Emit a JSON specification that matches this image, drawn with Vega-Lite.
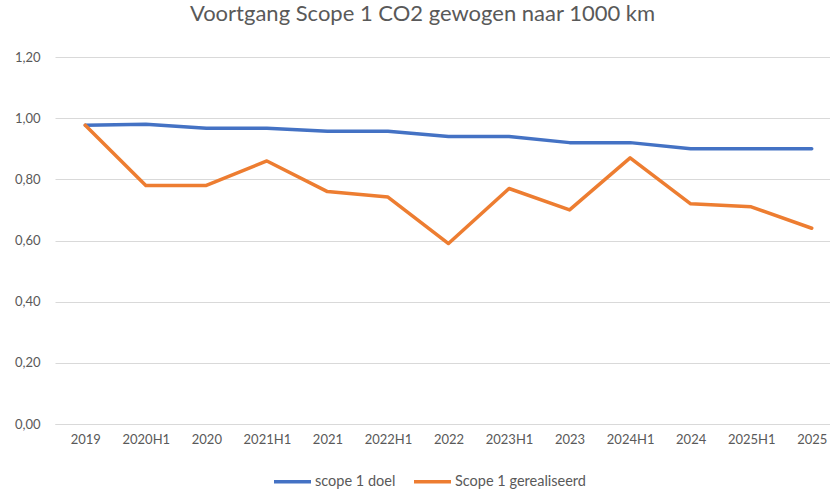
{
  "$schema": "https://vega.github.io/schema/vega-lite/v6.json",
  "autosize": "none",
  "width": 775,
  "height": 367,
  "padding": {"left": 55, "top": 57, "right": 0, "bottom": 75},
  "background": "white",
  "title": {
    "text": "Voortgang Scope 1 CO2 gewogen naar 1000 km",
    "font": "Lato",
    "fontSize": 22,
    "fontWeight": "normal",
    "color": "#595959",
    "anchor": "middle",
    "frame": "group",
    "baseline": "alphabetic",
    "offset": 8,
    "dx": -20
  },
  "data": {
    "values": [
      {"periode": "2019", "reeks": "scope 1 doel", "waarde": 0.977},
      {"periode": "2020H1", "reeks": "scope 1 doel", "waarde": 0.98},
      {"periode": "2020", "reeks": "scope 1 doel", "waarde": 0.967},
      {"periode": "2021H1", "reeks": "scope 1 doel", "waarde": 0.967},
      {"periode": "2021", "reeks": "scope 1 doel", "waarde": 0.957},
      {"periode": "2022H1", "reeks": "scope 1 doel", "waarde": 0.957},
      {"periode": "2022", "reeks": "scope 1 doel", "waarde": 0.94},
      {"periode": "2023H1", "reeks": "scope 1 doel", "waarde": 0.94},
      {"periode": "2023", "reeks": "scope 1 doel", "waarde": 0.92},
      {"periode": "2024H1", "reeks": "scope 1 doel", "waarde": 0.92},
      {"periode": "2024", "reeks": "scope 1 doel", "waarde": 0.9},
      {"periode": "2025H1", "reeks": "scope 1 doel", "waarde": 0.9},
      {"periode": "2025", "reeks": "scope 1 doel", "waarde": 0.9},
      {"periode": "2019", "reeks": "Scope 1 gerealiseerd", "waarde": 0.977},
      {"periode": "2020H1", "reeks": "Scope 1 gerealiseerd", "waarde": 0.78},
      {"periode": "2020", "reeks": "Scope 1 gerealiseerd", "waarde": 0.78},
      {"periode": "2021H1", "reeks": "Scope 1 gerealiseerd", "waarde": 0.86},
      {"periode": "2021", "reeks": "Scope 1 gerealiseerd", "waarde": 0.76},
      {"periode": "2022H1", "reeks": "Scope 1 gerealiseerd", "waarde": 0.742},
      {"periode": "2022", "reeks": "Scope 1 gerealiseerd", "waarde": 0.59},
      {"periode": "2023H1", "reeks": "Scope 1 gerealiseerd", "waarde": 0.77},
      {"periode": "2023", "reeks": "Scope 1 gerealiseerd", "waarde": 0.70},
      {"periode": "2024H1", "reeks": "Scope 1 gerealiseerd", "waarde": 0.87},
      {"periode": "2024", "reeks": "Scope 1 gerealiseerd", "waarde": 0.72},
      {"periode": "2025H1", "reeks": "Scope 1 gerealiseerd", "waarde": 0.71},
      {"periode": "2025", "reeks": "Scope 1 gerealiseerd", "waarde": 0.64}
    ]
  },
  "mark": {"type": "line", "strokeWidth": 3.5, "strokeCap": "round", "strokeJoin": "round"},
  "encoding": {
    "x": {
      "field": "periode",
      "type": "ordinal",
      "sort": ["2019","2020H1","2020","2021H1","2021","2022H1","2022","2023H1","2023","2024H1","2024","2025H1","2025"],
      "scale": {"type": "point", "range": [0, 787], "padding": 0.5},
      "axis": {
        "title": null,
        "labelAngle": 0,
        "labelFont": "Lato",
        "labelFontSize": 13,
        "labelColor": "#595959",
        "labelPadding": 9,
        "ticks": false,
        "domainColor": "#d9d9d9",
        "domainWidth": 1,
        "grid": false
      }
    },
    "y": {
      "field": "waarde",
      "type": "quantitative",
      "scale": {"domain": [0, 1.2]},
      "axis": {
        "title": null,
        "values": [0, 0.2, 0.4, 0.6, 0.8, 1.0, 1.2],
        "labelExpr": "replace(format(datum.value, '.2f'), '.', ',')",
        "labelFont": "Lato",
        "labelFontSize": 13,
        "labelColor": "#595959",
        "labelPadding": 15,
        "ticks": false,
        "domain": false,
        "gridColor": "#d9d9d9",
        "gridWidth": 1
      }
    },
    "color": {
      "field": "reeks",
      "type": "nominal",
      "scale": {"domain": ["scope 1 doel", "Scope 1 gerealiseerd"], "range": ["#4472C4", "#ED7D31"]},
      "legend": {
        "title": null,
        "orient": "none",
        "direction": "horizontal",
        "legendX": 217,
        "legendY": 404,
        "symbolType": "stroke",
        "symbolSize": 1369,
        "symbolStrokeWidth": 3.5,
        "labelFont": "Lato",
        "labelFontSize": 14.5,
        "labelColor": "#595959",
        "labelOffset": 2,
        "columnPadding": 11
      }
    }
  },
  "config": {"view": {"stroke": null}}
}
